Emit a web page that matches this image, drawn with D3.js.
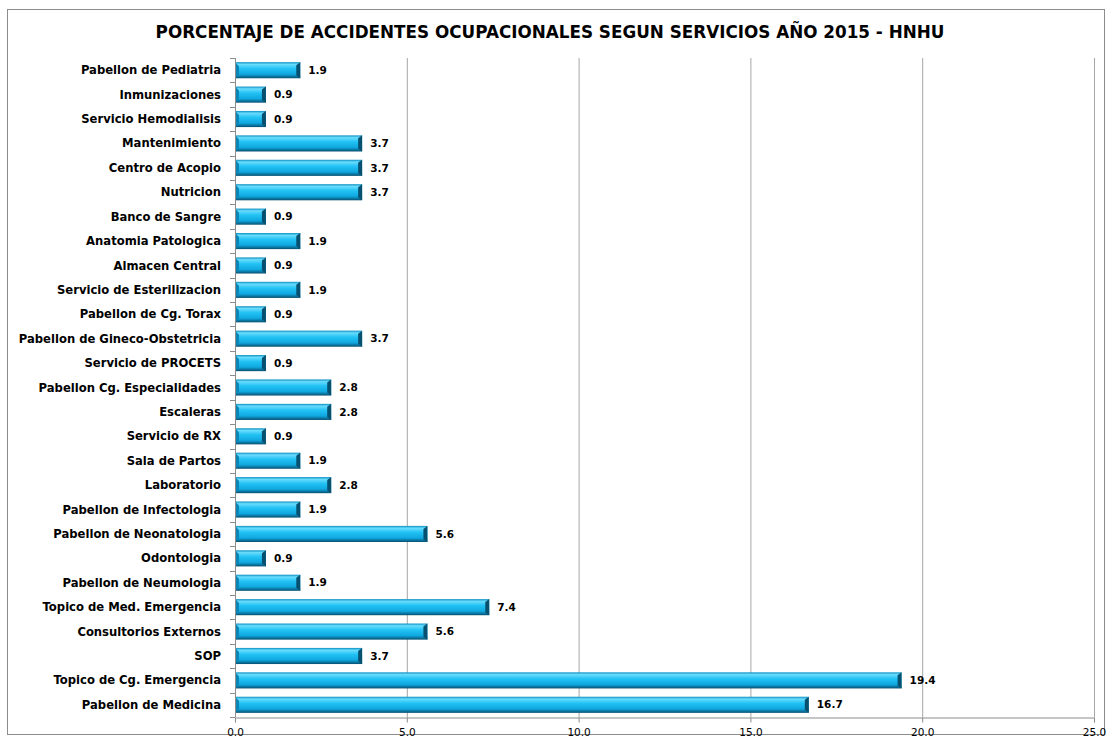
<!DOCTYPE html>
<html>
  <head>
    <meta charset="utf-8">
    <script src="https://cdn.jsdelivr.net/npm/d3@7"></script>
    <style>
      body { margin: 0; background: #fff; }
      text { font-family: "DejaVu Sans", Verdana, sans-serif; }
    </style>
  </head>
  <body>
    <svg width="1110" height="740"></svg>
    <script>

      // Services, top to bottom as in the chart
      var services = ["Pabellon de Pediatria", "Inmunizaciones", "Servicio Hemodialisis",
        "Mantenimiento", "Centro de Acopio", "Nutricion", "Banco de Sangre",
        "Anatomia Patologica", "Almacen Central", "Servicio de Esterilizacion",
        "Pabellon de Cg. Torax", "Pabellon de Gineco-Obstetricia", "Servicio de PROCETS",
        "Pabellon Cg. Especialidades", "Escaleras", "Servicio de RX", "Sala de Partos",
        "Laboratorio", "Pabellon de Infectologia", "Pabellon de Neonatologia", "Odontologia",
        "Pabellon de Neumologia", "Topico de Med. Emergencia", "Consultorios Externos",
        "SOP", "Topico de Cg. Emergencia", "Pabellon de Medicina"];
      var percents = [1.9, 0.9, 0.9, 3.7, 3.7, 3.7, 0.9, 1.9, 0.9, 1.9, 0.9, 3.7, 0.9,
        2.8, 2.8, 0.9, 1.9, 2.8, 1.9, 5.6, 0.9, 1.9, 7.4, 5.6, 3.7, 19.4, 16.7];
      var xTicks = [0, 5, 10, 15, 20, 25];
      var title = "PORCENTAJE DE ACCIDENTES OCUPACIONALES SEGUN SERVICIOS AÑO 2015 - HNHU";

      var svg = d3.select("svg");
      var plotLeft = 235, plotRight = 1094, plotTop = 58, plotBottom = 717;

      // outer frame
      svg.append("rect")
        .attr("x", 7.5).attr("y", 9.5)
        .attr("width", 1097).attr("height", 725)
        .attr("fill", "white").attr("stroke", "#8c8c8c");

      svg.append("text")
        .attr("x", 550).attr("y", 38)
        .attr("text-anchor", "middle")
        .style("font-weight", "bold")
        .style("font-size", "16.8px")
        .text(title);

      var x = d3.scaleLinear().domain([0, 25]).range([plotLeft, plotRight]);
      var y = d3.scaleBand().domain(services).range([plotTop, plotBottom]).paddingInner(0.34).paddingOuter(0.17);
      var yb = d3.scaleBand().domain(services).range([plotTop, plotBottom]);

      // gradient for the bevelled bars
      var defs = svg.append("defs");
      var grad = defs.append("linearGradient").attr("id", "barGrad")
        .attr("x1", 0).attr("y1", 0).attr("x2", 0).attr("y2", 1);
      grad.append("stop").attr("offset", "0%").attr("stop-color", "#0a8fc0");
      grad.append("stop").attr("offset", "14%").attr("stop-color", "#6adcfd");
      grad.append("stop").attr("offset", "40%").attr("stop-color", "#22c2f4");
      grad.append("stop").attr("offset", "75%").attr("stop-color", "#0fa8e0");
      grad.append("stop").attr("offset", "100%").attr("stop-color", "#064f70");

      // vertical gridlines
      svg.append("g").selectAll("line")
        .data(xTicks.slice(1))
        .enter().append("line")
        .attr("x1", function(d) { return x(d) + 0.5; })
        .attr("x2", function(d) { return x(d) + 0.5; })
        .attr("y1", plotTop).attr("y2", plotBottom)
        .attr("stroke", "#a6a6a6");

      // bottom axis
      var xAxis = svg.append("g")
        .attr("transform", "translate(0," + (plotBottom + 0.5) + ")")
        .call(d3.axisBottom(x).tickValues(xTicks).tickFormat(d3.format(".1f")).tickSizeOuter(0).tickSize(5));
      xAxis.select(".domain").attr("stroke", "#8c8c8c");
      xAxis.selectAll(".tick line").attr("stroke", "#8c8c8c");
      xAxis.selectAll("text")
        .attr("y", 11)
        .style("font-size", "10.5px")
        .style("font-family", "'DejaVu Sans', Verdana, sans-serif")
        .attr("fill", "#000");

      // left axis with ticks between categories
      svg.append("line")
        .attr("x1", plotLeft + 0.5).attr("x2", plotLeft + 0.5)
        .attr("y1", plotTop).attr("y2", plotBottom)
        .attr("stroke", "#8c8c8c");
      var bounds = services.map(function(s) { return yb(s); }).concat([plotBottom]);
      svg.append("g").selectAll("line")
        .data(bounds)
        .enter().append("line")
        .attr("x1", plotLeft - 5).attr("x2", plotLeft)
        .attr("y1", function(d) { return Math.round(d) + 0.5; })
        .attr("y2", function(d) { return Math.round(d) + 0.5; })
        .attr("stroke", "#8c8c8c");

      // category labels
      svg.append("g").selectAll("text")
        .data(services)
        .enter().append("text")
        .attr("x", plotLeft - 14)
        .attr("y", function(d) { return yb(d) + yb.bandwidth() / 2; })
        .attr("dy", "0.35em")
        .attr("text-anchor", "end")
        .style("font-size", "11.6px")
        .style("font-weight", "bold")
        .text(function(d) { return d; });

      // bars
      var bars = svg.append("g").selectAll("g")
        .data(services)
        .enter().append("g");
      bars.append("rect")
        .attr("x", x(0) + 1)
        .attr("y", function(d) { return y(d); })
        .attr("width", function(d, i) { return x(percents[i]) - x(0) - 1; })
        .attr("height", y.bandwidth())
        .attr("fill", "url(#barGrad)");
      // dark bevel at the end of each bar
      bars.append("path")
        .attr("d", function(d, i) {
          var xe = x(percents[i]), y0 = y(d), h = y.bandwidth();
          return "M" + (xe - 4) + "," + (y0 + 3) + "L" + xe + "," + y0 + "L" + xe + "," + (y0 + h) +
            "L" + (xe - 4) + "," + (y0 + h - 3) + "Z";
        })
        .attr("fill", "#07506f");
      bars.append("path")
        .attr("d", function(d, i) {
          var y0 = y(d), h = y.bandwidth(), x0 = x(0) + 1;
          return "M" + x0 + "," + (y0 + 1) + "L" + (x0 + 3) + "," + (y0 + 4) + "L" + (x0 + 3) + "," + (y0 + h - 4) +
            "L" + x0 + "," + (y0 + h - 1) + "Z";
        })
        .attr("fill", "#0b86b6");

      // value labels
      svg.append("g").selectAll("text")
        .data(services)
        .enter().append("text")
        .attr("x", function(d, i) { return x(percents[i]) + 8; })
        .attr("y", function(d) { return yb(d) + yb.bandwidth() / 2; })
        .attr("dy", "0.35em")
        .style("font-size", "10.5px")
        .style("font-weight", "bold")
        .text(function(d, i) { return d3.format(".1f")(percents[i]); });

    </script>
  </body>
</html>
